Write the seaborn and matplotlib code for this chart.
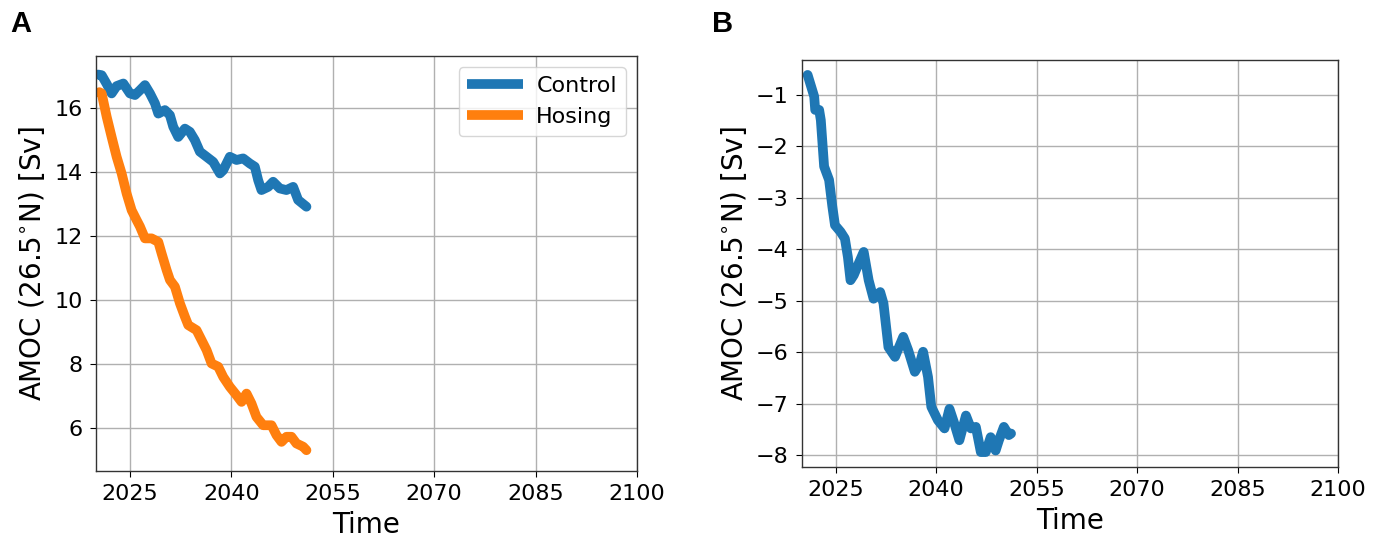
import matplotlib
matplotlib.use("Agg")
import matplotlib.pyplot as plt
import seaborn as sns
import pandas as pd

control_years = [2020.3, 2020.84, 2021.6, 2022.31, 2023.05, 2024.04, 2025.02, 2025.76, 2026.50, 2027.24,
                 2027.98, 2028.72, 2029.21, 2030.19, 2030.93, 2031.42, 2032.16, 2033.15, 2033.88, 2034.62,
                 2035.36, 2036.35, 2037.33, 2038.32, 2038.81, 2039.79, 2040.78, 2041.76, 2042.75, 2043.49,
                 2043.98, 2044.47, 2045.46, 2046.19, 2047.18, 2048.16, 2049.15, 2049.89, 2051.12]
control_vals = [17.05, 17.03, 16.75, 16.46, 16.69, 16.77, 16.46, 16.41, 16.56, 16.72,
                16.46, 16.15, 15.83, 15.94, 15.78, 15.42, 15.10, 15.36, 15.26, 15.00,
                14.64, 14.48, 14.32, 13.96, 14.06, 14.48, 14.38, 14.43, 14.27, 14.17,
                13.75, 13.44, 13.54, 13.70, 13.49, 13.44, 13.54, 13.13, 12.92]

hosing_years = [2020.5, 2020.84, 2021.58, 2022.31, 2023.05, 2023.79, 2024.53, 2025.27, 2026.01, 2026.50,
                2027.24, 2028.22, 2029.21, 2029.70, 2030.44, 2030.93, 2031.67, 2032.41, 2033.15, 2033.64,
                2034.87, 2035.61, 2036.35, 2037.09, 2038.07, 2038.81, 2039.79, 2040.78, 2041.52, 2042.26,
                2042.99, 2043.73, 2044.72, 2045.95, 2046.69, 2047.43, 2048.16, 2048.90, 2049.64, 2050.63,
                2051.12]
hosing_vals = [16.50, 16.46, 15.73, 15.10, 14.48, 13.96, 13.33, 12.81, 12.50, 12.30,
               11.93, 11.93, 11.82, 11.46, 10.94, 10.63, 10.42, 9.90, 9.48, 9.22,
               9.06, 8.75, 8.44, 8.02, 7.92, 7.60, 7.29, 7.03, 6.82, 7.08,
               6.77, 6.35, 6.09, 6.09, 5.78, 5.57, 5.73, 5.73, 5.52, 5.42,
               5.31]

diff_years = [2020.84, 2021.82, 2021.97, 2022.56, 2022.81, 2023.30, 2024.04, 2024.53, 2024.92, 2025.76,
              2026.40, 2026.85, 2027.24, 2027.73, 2028.47, 2029.21, 2029.95, 2030.68, 2031.67, 2032.16,
              2032.90, 2033.88, 2034.38, 2035.11, 2035.85, 2036.84, 2037.58, 2038.07, 2038.81, 2039.30,
              2040.28, 2041.27, 2042.01, 2042.75, 2043.49, 2044.47, 2045.21, 2045.95, 2046.69, 2047.43,
              2048.16, 2048.90, 2049.39, 2050.13, 2050.87, 2051.20]
diff_vals = [-0.61, -1.03, -1.29, -1.29, -1.49, -2.39, -2.65, -3.17, -3.53, -3.66,
             -3.79, -4.15, -4.60, -4.50, -4.27, -4.05, -4.60, -4.96, -4.83, -5.05,
             -5.90, -6.09, -5.93, -5.70, -5.96, -6.38, -6.22, -5.99, -6.48, -7.06,
             -7.32, -7.48, -7.10, -7.39, -7.71, -7.23, -7.48, -7.45, -7.94, -7.94,
             -7.65, -7.91, -7.71, -7.45, -7.61, -7.58]

xticks = [2025, 2040, 2055, 2070, 2085, 2100]
yticks_a = [6, 8, 10, 12, 14, 16]
yticks_b = [-8, -7, -6, -5, -4, -3, -2, -1]
ylabel = "AMOC (26.5$^{\\circ}$N) [Sv]"

W, H = 1384, 542
fig = plt.figure(figsize=(W / 100, H / 100), dpi=100)

def axes_px(l, t, r, b):
    return fig.add_axes([l / W, 1 - b / H, (r - l) / W, (b - t) / H])

axA = axes_px(96, 56, 637, 471)
axB = axes_px(802, 60, 1338, 467)

blue = "#1f77b4"
orange = "#ff7f0e"
lw = 7
line_kw = dict(estimator=None, sort=False, lw=lw, solid_joinstyle="round", solid_capstyle="round")

dfc = pd.DataFrame({"Time": control_years, "AMOC": control_vals})
dfh = pd.DataFrame({"Time": hosing_years, "AMOC": hosing_vals})
dfd = pd.DataFrame({"Time": diff_years, "AMOC": diff_vals})

sns.lineplot(data=dfc, x="Time", y="AMOC", ax=axA, color=blue, label="Control", **line_kw)
sns.lineplot(data=dfh, x="Time", y="AMOC", ax=axA, color=orange, label="Hosing", **line_kw)
sns.lineplot(data=dfd, x="Time", y="AMOC", ax=axB, color=blue, **line_kw)

for ax in (axA, axB):
    ax.set_xlim(2020, 2100)
    ax.set_xticks(xticks)
    ax.grid(True, color="#b0b0b0", lw=1.0)
    ax.set_axisbelow(True)
    ax.tick_params(labelsize=16, length=4, pad=5.5)
    ax.set_xlabel("Time", fontsize=20, labelpad=5)
    ax.set_ylabel(ylabel, fontsize=20, labelpad=5)
    for s in ax.spines.values():
        s.set_color("#333333")
        s.set_linewidth(1.0)

axA.set_ylim(4.66, 17.63)
axA.set_yticks(yticks_a)
axB.set_ylim(-8.23, -0.32)
axB.set_yticks(yticks_b)

leg = axA.legend(loc="upper right", fontsize=16, handlelength=2.5, handletextpad=0.6,
                 framealpha=0.8)
for h in leg.get_lines():
    h.set_solid_capstyle("butt")

fig.text(10 / W, 1 - 32 / H, "A", fontsize=21, fontweight="bold",
         family="Liberation Sans", va="baseline")
fig.text(712 / W, 1 - 32 / H, "B", fontsize=21, fontweight="bold",
         family="Liberation Sans", va="baseline")

fig.savefig("out.png", dpi=100)
